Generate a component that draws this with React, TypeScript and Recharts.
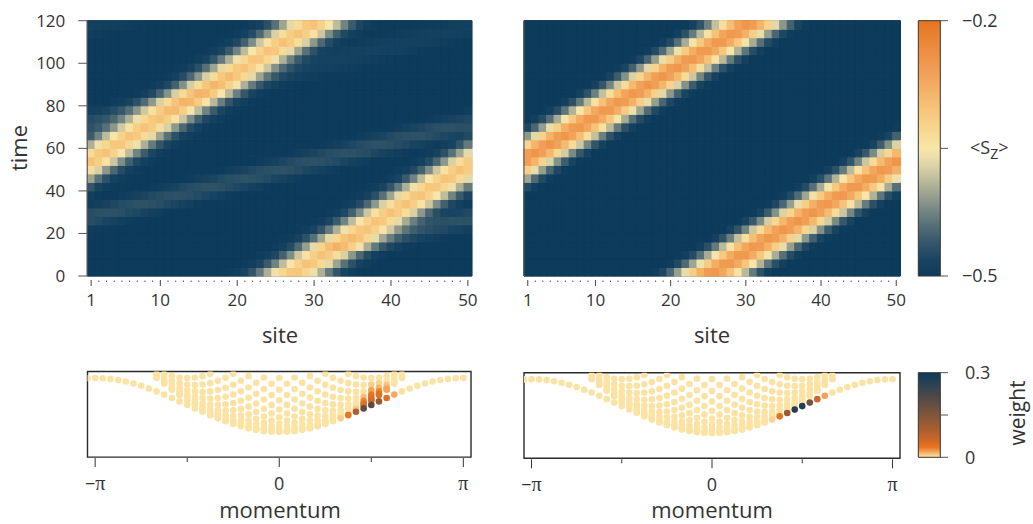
import React from 'react';
import { BarChart, Bar, Cell, XAxis, YAxis, ScatterChart, Scatter, ReferenceArea, Label } from 'recharts';

const FONT = '"Open Sans", "DejaVu Sans", sans-serif';
const SERIF = '"Liberation Serif", "DejaVu Serif", serif';
const INK = '#333333';

// ---------- top panels: <S_z>(site, time) ----------
const SITES = [1,2,3,4,5,6,7,8,9,10,11,12,13,14,15,16,17,18,19,20,21,22,23,24,25,26,27,28,29,30,31,32,33,34,35,36,37,38,39,40,41,42,43,44,45,46,47,48,49,50];
const SITE_TICKS = [1, 10, 20, 30, 40, 50];
const TIME_TICKS = [0, 20, 40, 60, 80, 100, 120];
const TIME_ROWS = [2,6,10,14,18,22,26,30,34,38,42,46,50,54,58,62,66,70,74,78,82,86,90,94,98,102,106,110,114,118];
const TIME_STEP = 4;

// centre of the bright (bound pair) stripe for every time row, in sites (ring of 50)
const boundCentreLeft = [27.5,29.3,31.1,32.9,34.7,36.5,38.3,40.1,41.9,43.7,45.5,47.3,49.1,50.9,52.7,54.5,56.3,58.1,59.9,61.7,63.5,65.3,67.1,68.9,70.7,72.5,74.3,76.1,77.9,79.7];
const boundCentreRight = [25.7,27.6,29.5,31.3,33.2,35.1,37.0,38.9,40.7,42.6,44.5,46.4,48.3,50.1,52.0,53.9,55.8,57.7,59.5,61.4,63.3,65.2,67.1,68.9,70.8,72.7,74.6,76.5,78.3,80.2];
// faint fast stripe in the left panel (null = not visible)
const fastCentreLeft: (number | null)[] = [null,null,null,35.5,39.9,44.3,48.8,53.2,57.7,62.1,66.5,71.0,75.4,79.9,84.3,88.7,93.2,97.6,102.1,106.5,110.9,115.4,119.8,124.3,128.7,133.1,137.6,142.0,146.5,150.9];
// its strength per row (1 = full)
const fastStrengthLeft = [0,0,0,0.7,0.8,0.9,1,1,1,1,1,1,1,1,1,1,1,1,0.8,0.8,0.7,0.6,0.5,0.5,0.45,0.4,0.4,0.35,0.35,0.3];
// stripe cross-sections: <S_z> at distance 0,1,2,... sites from the stripe centre
const profileBoundLeft = [-0.30, -0.315, -0.34, -0.375, -0.415, -0.45, -0.475, -0.49, -0.496, -0.5];
const profileBoundRight = [-0.245, -0.26, -0.29, -0.33, -0.375, -0.42, -0.46, -0.485, -0.5];
const profileFast = [-0.466, -0.467, -0.47, -0.474, -0.479, -0.485, -0.491, -0.496, -0.5];

// ---------- bottom panels: spectrum ----------
const MOMENTUM_TICKS = [-24, -12, 0, 12, 24];
const BOUND_MOMENTA = [-25,-24,-23,-22,-21,-20,-19,-18,-17,-16,-15,-14,-13,-12,-11,-10,-9,-8,-7,-6,-5,-4,-3,-2,-1,0,1,2,3,4,5,6,7,8,9,10,11,12,13,14,15,16,17,18,19,20,21,22,23,24];
// bound-state energy by |momentum index|
const boundEnergy = [0, 0.004, 0.017, 0.038, 0.067, 0.103, 0.146, 0.196, 0.25, 0.309, 0.371, 0.435, 0.5, 0.565, 0.629, 0.691, 0.75, 0.804, 0.854, 0.897, 0.933, 0.962, 0.983, 0.996, 1.0, 0.996];
// scattering states in each column, by |momentum index| 0..16
const continuumEnergy: number[][] = [
  [0, 0.017, 0.068, 0.152, 0.268, 0.413, 0.586, 0.782, 1.0],
  [0.009, 0.043, 0.110, 0.210, 0.341, 0.500, 0.684, 0.891],
  [0.017, 0.034, 0.085, 0.168, 0.283, 0.427, 0.598, 0.793, 1.009],
  [0.043, 0.076, 0.143, 0.241, 0.369, 0.525, 0.707, 0.910],
  [0.068, 0.085, 0.134, 0.215, 0.327, 0.467, 0.634, 0.824, 1.034],
  [0.110, 0.143, 0.207, 0.302, 0.425, 0.576, 0.751, 0.948],
  [0.152, 0.168, 0.215, 0.293, 0.400, 0.534, 0.693, 0.875, 1.076],
  [0.210, 0.241, 0.302, 0.391, 0.509, 0.651, 0.817, 1.004],
  [0.268, 0.283, 0.327, 0.400, 0.500, 0.626, 0.775, 0.946],
  [0.341, 0.369, 0.425, 0.509, 0.617, 0.750, 0.904, 1.076],
  [0.413, 0.427, 0.467, 0.534, 0.626, 0.741, 0.878, 1.034],
  [0.500, 0.525, 0.576, 0.651, 0.750, 0.870, 1.009],
  [0.586, 0.598, 0.634, 0.693, 0.775, 0.878, 1.0],
  [0.684, 0.707, 0.751, 0.817, 0.904, 1.009],
  [0.783, 0.793, 0.824, 0.875, 0.946, 1.034],
  [0.891, 0.910, 0.948, 1.004, 1.076],
  [1.0, 1.009, 1.034, 1.076],
];
// weights: [momentum index, weight] for bound states; [momentum index, state index, weight] for scattering states
const boundWeightLeft: [number, number][] = [[8, 0.008], [9, 0.035], [10, 0.09], [11, 0.19], [12, 0.2], [13, 0.12], [14, 0.045], [15, 0.018]];
const boundWeightRight: [number, number][] = [[8, 0.006], [9, 0.04], [10, 0.12], [11, 0.27], [12, 0.28], [13, 0.17], [14, 0.06], [15, 0.02]];
const continuumWeightLeft: [number, number, number][] = [
  [10, 0, 0.01], [10, 1, 0.008],
  [11, 0, 0.045], [11, 1, 0.04], [11, 2, 0.03], [11, 3, 0.012],
  [12, 0, 0.05], [12, 1, 0.045], [12, 2, 0.04], [12, 3, 0.035], [12, 4, 0.02], [12, 5, 0.008],
  [13, 0, 0.045], [13, 1, 0.04], [13, 2, 0.03], [13, 3, 0.015], [13, 4, 0.006],
  [14, 0, 0.02], [14, 1, 0.02], [14, 2, 0.015], [14, 3, 0.01],
];
const continuumWeightRight: [number, number, number][] = [];

// ---------- colour scales ----------
const SZ_STOPS: [number, string][] = [
  [-0.5, '#0d3b5c'], [-0.48, '#1a4561'], [-0.46, '#36586a'], [-0.44, '#567078'], [-0.42, '#7a8b86'],
  [-0.40, '#a3a892'], [-0.38, '#cbc6a0'], [-0.36, '#eddfaa'], [-0.35, '#f8e6a9'], [-0.33, '#f7d891'],
  [-0.31, '#f6c97f'], [-0.29, '#f4b86d'], [-0.26, '#f19f57'], [-0.23, '#ec8a3d'], [-0.2, '#e8741f'],
];
const W_STOPS: [number, string][] = [
  [0, '#fce3a3'], [0.008, '#f9cf8a'], [0.02, '#f2a35a'], [0.035, '#e8761f'], [0.06, '#d0672a'],
  [0.1, '#a85e30'], [0.15, '#80563a'], [0.2, '#5b4b45'], [0.25, '#33434f'], [0.3, '#0d3a5c'],
];

function hexToRgb(h: string) {
  const n = parseInt(h.slice(1), 16);
  return [(n >> 16) & 255, (n >> 8) & 255, n & 255];
}
function scaleColor(stops: [number, string][], v: number) {
  if (v <= stops[0][0]) return stops[0][1];
  for (let i = 1; i < stops.length; i++) {
    if (v <= stops[i][0]) {
      const f = (v - stops[i - 1][0]) / (stops[i][0] - stops[i - 1][0]);
      const a = hexToRgb(stops[i - 1][1]);
      const b = hexToRgb(stops[i][1]);
      const c = a.map((x, k) => Math.round(x + (b[k] - x) * f));
      return `rgb(${c[0]},${c[1]},${c[2]})`;
    }
  }
  return stops[stops.length - 1][1];
}
function profileAt(p: number[], d: number) {
  if (d >= p.length - 1) return p[p.length - 1];
  const i = Math.floor(d);
  const f = d - i;
  return p[i] * (1 - f) + p[i + 1] * f;
}
function ringDist(s: number, c: number) {
  const d = Math.abs(s - c) % 50;
  return Math.min(d, 50 - d);
}

function cellValues(boundCentre: number[], boundProfile: number[], fastCentre: (number | null)[] | null, fastStrength: number[] | null) {
  return TIME_ROWS.map((_, i) =>
    SITES.map((s) => {
      let v = -0.5 + (profileAt(boundProfile, ringDist(s, boundCentre[i])) + 0.5);
      const fc = fastCentre ? fastCentre[i] : null;
      if (fc !== null && fc !== undefined && fastStrength) v += (profileAt(profileFast, ringDist(s, fc)) + 0.5) * fastStrength[i];
      return Math.min(v, -0.2);
    })
  );
}

const heatRows = SITES.map((s) => {
  const o: Record<string, number> = { site: s };
  TIME_ROWS.forEach((_, i) => { o['r' + i] = TIME_STEP; });
  return o;
});

function SiteTick(props: any) {
  const { x, y, payload } = props;
  const major = SITE_TICKS.includes(payload.value);
  if (!major) return <line x1={x} x2={x} y1={y + 4.5} y2={y + 6} stroke="#555" strokeWidth={1} />;
  return (
    <g>
      <line x1={x} x2={x} y1={y + 4} y2={y + 10} stroke="#444" strokeWidth={1} />
      <text x={x} y={y + 30} textAnchor="middle" fontSize={17} fill={INK} fontFamily={FONT}>{payload.value}</text>
    </g>
  );
}

function MomentumTick(props: any) {
  const { x, y, payload } = props;
  const v = payload.value;
  const major = v % 24 === 0;
  return (
    <g>
      <line x1={x} x2={x} y1={y + 1} y2={y + (major ? 10 : 5)} stroke="#333" strokeWidth={1} />
      {major && (
        <text x={x} y={y + 33} textAnchor="middle" fontSize={18} fill={INK} fontFamily={FONT}>
          {v === 0 ? '0' : (<>{v < 0 ? '−' : ''}<tspan fontFamily={SERIF} fontSize={20}>π</tspan></>)}
        </text>
      )}
    </g>
  );
}

function Heatmap(props: { values: number[][]; width: number; yAxisWidth: number; rightMargin: number; showTimeLabels: boolean; siteLabelX: number; extra?: React.ReactNode }) {
  const { values, width, yAxisWidth, rightMargin, showTimeLabels, siteLabelX } = props;
  return (
    <BarChart width={width} height={350} data={heatRows} margin={{ top: 20.7, right: rightMargin, bottom: 10, left: 0 }} barCategoryGap={0} barGap={0}>
      <XAxis dataKey="site" type="category" interval={0} tickLine={false} axisLine={false} tickSize={0} tickMargin={0} height={64} tick={(p: any) => <SiteTick {...p} />}>
        <Label content={() => <text x={siteLabelX} y={343} textAnchor="middle" fontSize={22} fill={INK} fontFamily={FONT}>site</text>} />
      </XAxis>
      <YAxis type="number" domain={[0, 120]} ticks={TIME_TICKS} width={yAxisWidth} tickSize={9} tickMargin={13} axisLine={{ stroke: '#555' }} tickLine={{ stroke: '#555' }}
        tick={showTimeLabels ? { fontSize: 17, fill: INK, fontFamily: FONT } : false}>
        {showTimeLabels && <Label content={() => <text x={27} y={148} transform="rotate(-90 27 148)" textAnchor="middle" fontSize={22} fill={INK} fontFamily={FONT}>time</text>} />}
      </YAxis>
      {TIME_ROWS.map((_, i) => (
        <Bar key={i} dataKey={'r' + i} stackId="t" isAnimationActive={false}>
          {SITES.map((s, k) => {
            const c = scaleColor(SZ_STOPS, values[i][k]);
            return <Cell key={k} fill={c} stroke={c} strokeWidth={1} />;
          })}
        </Bar>
      ))}
      <ReferenceArea y1={0} y2={120} fill="none" stroke="#555" strokeWidth={1} ifOverflow="visible">
        {props.extra}
      </ReferenceArea>
    </BarChart>
  );
}

function spectrum(boundW: [number, number][], contW: [number, number, number][]) {
  const pts: { n: number; E: number; w: number }[] = [];
  BOUND_MOMENTA.forEach((n) => {
    const f = boundW.find((b) => b[0] === n);
    pts.push({ n, E: boundEnergy[Math.abs(n)], w: f ? f[1] : 0 });
  });
  continuumEnergy.forEach((col, a) => {
    const ns = a === 0 ? [0] : [-a, a];
    ns.forEach((n) => {
      col.forEach((E, j) => {
        const f = contW.find((c) => c[0] === n && c[1] === j);
        pts.push({ n, E, w: f ? f[2] : 0 });
      });
    });
  });
  return pts.sort((p, q) => p.w - q.w);
}

function Spectrum(props: { data: { n: number; E: number; w: number }[]; width: number; left: number; right: number; top: number; labelX: number; energyLabel: boolean }) {
  const { data, width, left, right, top, labelX, energyLabel } = props;
  const plotBottom = top + 85.6;
  return (
    <ScatterChart width={width} height={174} margin={{ top, right, bottom: 0, left }}>
      <XAxis dataKey="n" type="number" domain={[-25, 25]} ticks={MOMENTUM_TICKS} allowDataOverflow tickLine={false} axisLine={false} tickSize={0} tickMargin={0} height={174 - plotBottom} tick={(p: any) => <MomentumTick {...p} />}>
        <Label content={() => <text x={labelX} y={168} textAnchor="middle" fontSize={22} fill={INK} fontFamily={FONT}>momentum</text>} />
      </XAxis>
      <YAxis dataKey="E" type="number" domain={[-0.47, 1.12]} hide allowDataOverflow>
        {energyLabel && <Label content={() => <text x={26} y={66} transform="rotate(-90 26 66)" textAnchor="middle" fontSize={22} fill={INK} fontFamily={FONT}>energy →</text>} />}
      </YAxis>
      <Scatter data={data} isAnimationActive={false}
        shape={(p: any) => <circle cx={p.cx} cy={p.cy} r={3.3} fill={scaleColor(W_STOPS, p.payload.w)} />} />
      <ReferenceArea x1={-25} x2={25} y1={-0.47} y2={1.12} fill="none" stroke="#2a2a2a" strokeWidth={1.4} ifOverflow="visible" />
    </ScatterChart>
  );
}

function Colorbar(props: { id: string; stops: [number, string][]; domain: [number, number]; ticks: number[]; fmt: (v: number) => string; height: number; top: number; bottom: number; margin: number; label: React.ReactNode }) {
  const { id, stops, domain, ticks, fmt, height, top, bottom, margin, label } = props;
  const lo = domain[0], hi = domain[1];
  return (
    <BarChart width={133} height={height} data={[{ k: 'c', v: [lo, hi] }]} margin={{ top, right: 0, bottom, left: 18.3 }} barCategoryGap={0}>
      <defs>
        <linearGradient id={id} x1="0" y1="1" x2="0" y2="0">
          {stops.map(([v, c], i) => <stop key={i} offset={(v - lo) / (hi - lo)} stopColor={c} />)}
        </linearGradient>
      </defs>
      <XAxis dataKey="k" type="category" hide />
      <YAxis orientation="right" type="number" domain={domain} ticks={ticks} width={93} tickSize={8} tickMargin={margin} axisLine={false}
        tickLine={{ stroke: '#555' }} tick={{ fontSize: 18, fill: INK, fontFamily: FONT }} tickFormatter={fmt}>
        <Label content={() => label} />
      </YAxis>
      <Bar dataKey="v" fill={`url(#${id})`} stroke="#333" strokeWidth={1} isAnimationActive={false} />
    </BarChart>
  );
}

const leftValues = cellValues(boundCentreLeft, profileBoundLeft, fastCentreLeft, fastStrengthLeft);
const rightValues = cellValues(boundCentreRight, profileBoundRight, null, null);
const leftSpectrum = spectrum(boundWeightLeft, continuumWeightLeft);
const rightSpectrum = spectrum(boundWeightRight, continuumWeightRight);

export default function App() {
  const abs = (left: number, top: number): React.CSSProperties => ({ position: 'absolute', left, top });
  return (
    <div style={{ position: 'absolute', left: 0, top: 0, width: 1033, height: 524, background: '#fff', fontFamily: FONT }}>
      <div style={abs(0, 0)}>
        <Heatmap values={leftValues} width={480} yAxisWidth={87.3} rightMargin={8.3} showTimeLabels siteLabelX={280}
          extra={<Label content={() => <text x={458} y={254} textAnchor="end" fontSize={20} fill="#eef2f4" fontFamily={FONT}>(d)</text>} />} />
      </div>
      <div style={abs(480, 0)}>
        <Heatmap values={rightValues} width={430} yAxisWidth={44} rightMargin={10} showTimeLabels={false} siteLabelX={232} />
      </div>
      <div style={abs(900, 0)}>
        <Colorbar id="szGrad" stops={SZ_STOPS} domain={[-0.5, -0.2]} ticks={[-0.5, -0.35, -0.2]} height={300} top={20.7} bottom={24}
          margin={14} fmt={(v) => (Math.abs(v + 0.35) < 1e-6 ? '' : '−' + Math.abs(v).toFixed(1))}
          label={<text x={70} y={154} fontSize={18} fill={INK} fontFamily={FONT}>&lt;S<tspan fontSize={14} dy={5}>Z</tspan><tspan dy={-5}>&gt;</tspan></text>} />
      </div>
      <div style={abs(0, 350)}>
        <Spectrum data={leftSpectrum} width={480} left={87.5} right={9} top={21.5} labelX={280} energyLabel />
      </div>
      <div style={abs(480, 350)}>
        <Spectrum data={rightSpectrum} width={430} left={44} right={10} top={22.7} labelX={232} energyLabel={false} />
      </div>
      <div style={abs(900, 350)}>
        <Colorbar id="wGrad" stops={W_STOPS} domain={[0, 0.3]} ticks={[0, 0.15, 0.3]} height={174} top={22.7} bottom={66.7}
          margin={17} fmt={(v) => (v === 0 ? '0' : v === 0.3 ? '0.3' : '')}
          label={<text x={125} y={63} transform="rotate(-90 125 63)" textAnchor="middle" fontSize={21} fill={INK} fontFamily={FONT}>weight</text>} />
      </div>
    </div>
  );
}
